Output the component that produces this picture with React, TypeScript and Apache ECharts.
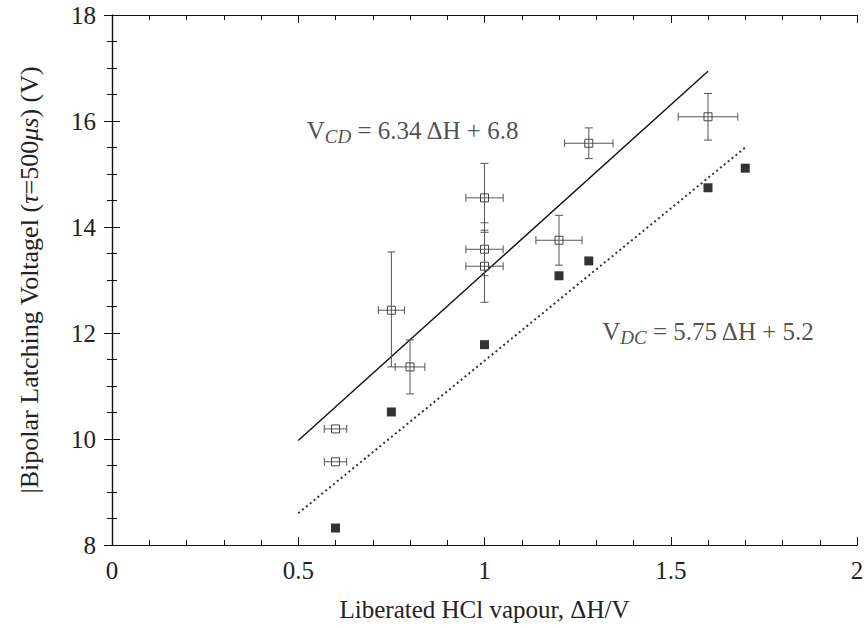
import React, { useEffect, useRef } from "react";
import * as echarts from "echarts";

// Open squares (V_CD) with error bars: x, y, x-error, y-low, y-high
const cdX = [0.6, 0.6, 0.75, 0.8, 1.0, 1.0, 1.0, 1.2, 1.28, 1.6];
const cdY = [10.19, 9.57, 12.43, 11.36, 14.55, 13.58, 13.26, 13.75, 15.58, 16.08];
const cdXErr = [0.03, 0.03, 0.035, 0.04, 0.05, 0.05, 0.05, 0.062, 0.065, 0.08];
const cdYLow = [10.19, 9.57, 11.36, 10.85, 13.9, 13.08, 12.58, 13.28, 15.29, 15.64];
const cdYHigh = [10.19, 9.57, 13.53, 11.87, 15.2, 14.08, 13.94, 14.22, 15.87, 16.52];

// Filled squares (V_DC)
const dcX = [0.6, 0.75, 1.0, 1.2, 1.28, 1.6, 1.7];
const dcY = [8.32, 10.51, 11.78, 13.08, 13.36, 14.74, 15.11];

// Fit lines (end points)
const cdLineX = [0.5, 1.6];
const cdLineY = [9.97, 16.94];
const dcLineX = [0.5, 1.7];
const dcLineY = [8.6, 15.5];

const FONT = "Liberation Serif";

export default function App() {
  const ref = useRef<HTMLDivElement>(null);
  useEffect(() => {
    if (!ref.current) return;
    const chart = echarts.init(ref.current, undefined, { renderer: "svg" });
    const cdData = cdX.map((x, i) => [x, cdY[i], cdXErr[i], cdYLow[i], cdYHigh[i]]);
    const dcData = dcX.map((x, i) => [x, dcY[i]]);
    const axisLine = { show: true, lineStyle: { color: "#111", width: 1.2 } };
    const tick = { show: true, inside: true, length: 8, lineStyle: { color: "#111", width: 1 } };
    const labelStyle = { fontFamily: FONT, fontSize: 25, color: "#222" };
    const gray = "#555";

    chart.setOption({
      animation: false,
      backgroundColor: "#fff",
      grid: { left: 112, right: 10, top: 15, bottom: 83, containLabel: false },
      xAxis: [
        {
          type: "value", min: 0, max: 2, interval: 0.5, position: "bottom",
          axisLine, axisTick: tick,
          minorTick: { show: true, splitNumber: 5, length: 5, lineStyle: { color: "#111" } },
          splitLine: { show: false }, minorSplitLine: { show: false },
          axisLabel: { ...labelStyle, margin: 13 },
          name: "Liberated HCl vapour, ΔH/V",
          nameLocation: "middle", nameGap: 52,
          nameTextStyle: { fontFamily: FONT, fontSize: 25, color: "#222" },
        },
        {
          type: "value", min: 0, max: 2, interval: 0.5, position: "top",
          axisLine, axisTick: tick,
          minorTick: { show: true, splitNumber: 5, length: 5, lineStyle: { color: "#111" } },
          splitLine: { show: false }, axisLabel: { show: false },
        },
      ],
      yAxis: [
        {
          type: "value", min: 8, max: 18, interval: 2, position: "left",
          axisLine, axisTick: tick,
          minorTick: { show: true, splitNumber: 4, length: 5, lineStyle: { color: "#111" } },
          splitLine: { show: false }, minorSplitLine: { show: false },
          axisLabel: { ...labelStyle, margin: 16 },
          name: "|Bipolar Latching Voltagel ({i|τ}=500{i|μs}) (V)",
          nameLocation: "middle", nameGap: 70, nameRotate: 90,
          nameTextStyle: {
            fontFamily: FONT, fontSize: 26, color: "#222",
            rich: { i: { fontFamily: FONT, fontSize: 26, fontStyle: "italic", color: "#222" } },
          },
        },
        {
          type: "value", min: 8, max: 18, interval: 2, position: "right",
          axisLine, axisTick: tick,
          minorTick: { show: true, splitNumber: 4, length: 5, lineStyle: { color: "#111" } },
          splitLine: { show: false }, axisLabel: { show: false },
        },
      ],
      series: [
        {
          type: "line", xAxisIndex: 0, yAxisIndex: 0, symbol: "none",
          data: cdLineX.map((x, i) => [x, cdLineY[i]]),
          lineStyle: { color: "#111", width: 1.4, type: "solid" },
          z: 3,
        },
        {
          type: "line", xAxisIndex: 0, yAxisIndex: 0, symbol: "none",
          data: dcLineX.map((x, i) => [x, dcLineY[i]]),
          lineStyle: { color: "#333", width: 2, type: [2, 3] },
          z: 3,
        },
        {
          type: "custom", xAxisIndex: 0, yAxisIndex: 0,
          data: cdData,
          renderItem: (params: any, api: any) => {
            const x = api.value(0), y = api.value(1), xe = api.value(2);
            const ylo = api.value(3), yhi = api.value(4);
            const c = api.coord([x, y]);
            const l = api.coord([x - xe, y]);
            const r = api.coord([x + xe, y]);
            const lo = api.coord([x, ylo]);
            const hi = api.coord([x, yhi]);
            const cap = 4;
            const st = { stroke: gray, lineWidth: 1, fill: "none" };
            const children: any[] = [
              { type: "line", shape: { x1: l[0], y1: c[1], x2: r[0], y2: c[1] }, style: st },
              { type: "line", shape: { x1: l[0], y1: c[1] - cap, x2: l[0], y2: c[1] + cap }, style: st },
              { type: "line", shape: { x1: r[0], y1: c[1] - cap, x2: r[0], y2: c[1] + cap }, style: st },
            ];
            if (yhi - ylo > 0.01) {
              children.push(
                { type: "line", shape: { x1: c[0], y1: lo[1], x2: c[0], y2: hi[1] }, style: st },
                { type: "line", shape: { x1: c[0] - cap, y1: lo[1], x2: c[0] + cap, y2: lo[1] }, style: st },
                { type: "line", shape: { x1: c[0] - cap, y1: hi[1], x2: c[0] + cap, y2: hi[1] }, style: st },
              );
            }
            children.push({
              type: "rect", shape: { x: c[0] - 4, y: c[1] - 4, width: 8, height: 8 },
              style: { stroke: "#444", lineWidth: 1, fill: "none" },
            });
            return { type: "group", children };
          },
          z: 4,
        },
        {
          type: "scatter", xAxisIndex: 0, yAxisIndex: 0,
          data: dcData, symbol: "rect", symbolSize: 9,
          itemStyle: { color: "#000" }, z: 5,
        },
        {
          type: "scatter", xAxisIndex: 0, yAxisIndex: 0, symbolSize: 0, silent: true,
          data: [[0.523, 15.83]],
          label: {
            show: true, position: "right", distance: 0,
            formatter: "{a|V}{s|CD}{a| = 6.34 ΔH + 6.8}",
            rich: {
              a: { fontFamily: FONT, fontSize: 25, color: "#222", lineHeight: 32 },
              s: { fontFamily: FONT, fontSize: 19, fontStyle: "italic", color: "#222", lineHeight: 32, padding: [12, 0, 0, 0] },
            },
          },
        },
        {
          type: "scatter", xAxisIndex: 0, yAxisIndex: 0, symbolSize: 0, silent: true,
          data: [[1.316, 12.02]],
          label: {
            show: true, position: "right", distance: 0,
            formatter: "{a|V}{s|DC}{a| = 5.75 ΔH + 5.2}",
            rich: {
              a: { fontFamily: FONT, fontSize: 25, color: "#222", lineHeight: 32 },
              s: { fontFamily: FONT, fontSize: 19, fontStyle: "italic", color: "#222", lineHeight: 32, padding: [12, 0, 0, 0] },
            },
          },
        },
      ],
    });
    return () => chart.dispose();
  }, []);
  return (
    <div
      ref={ref}
      style={{ position: "absolute", left: 0, top: 0, width: 867, height: 628 }}
    />
  );
}
